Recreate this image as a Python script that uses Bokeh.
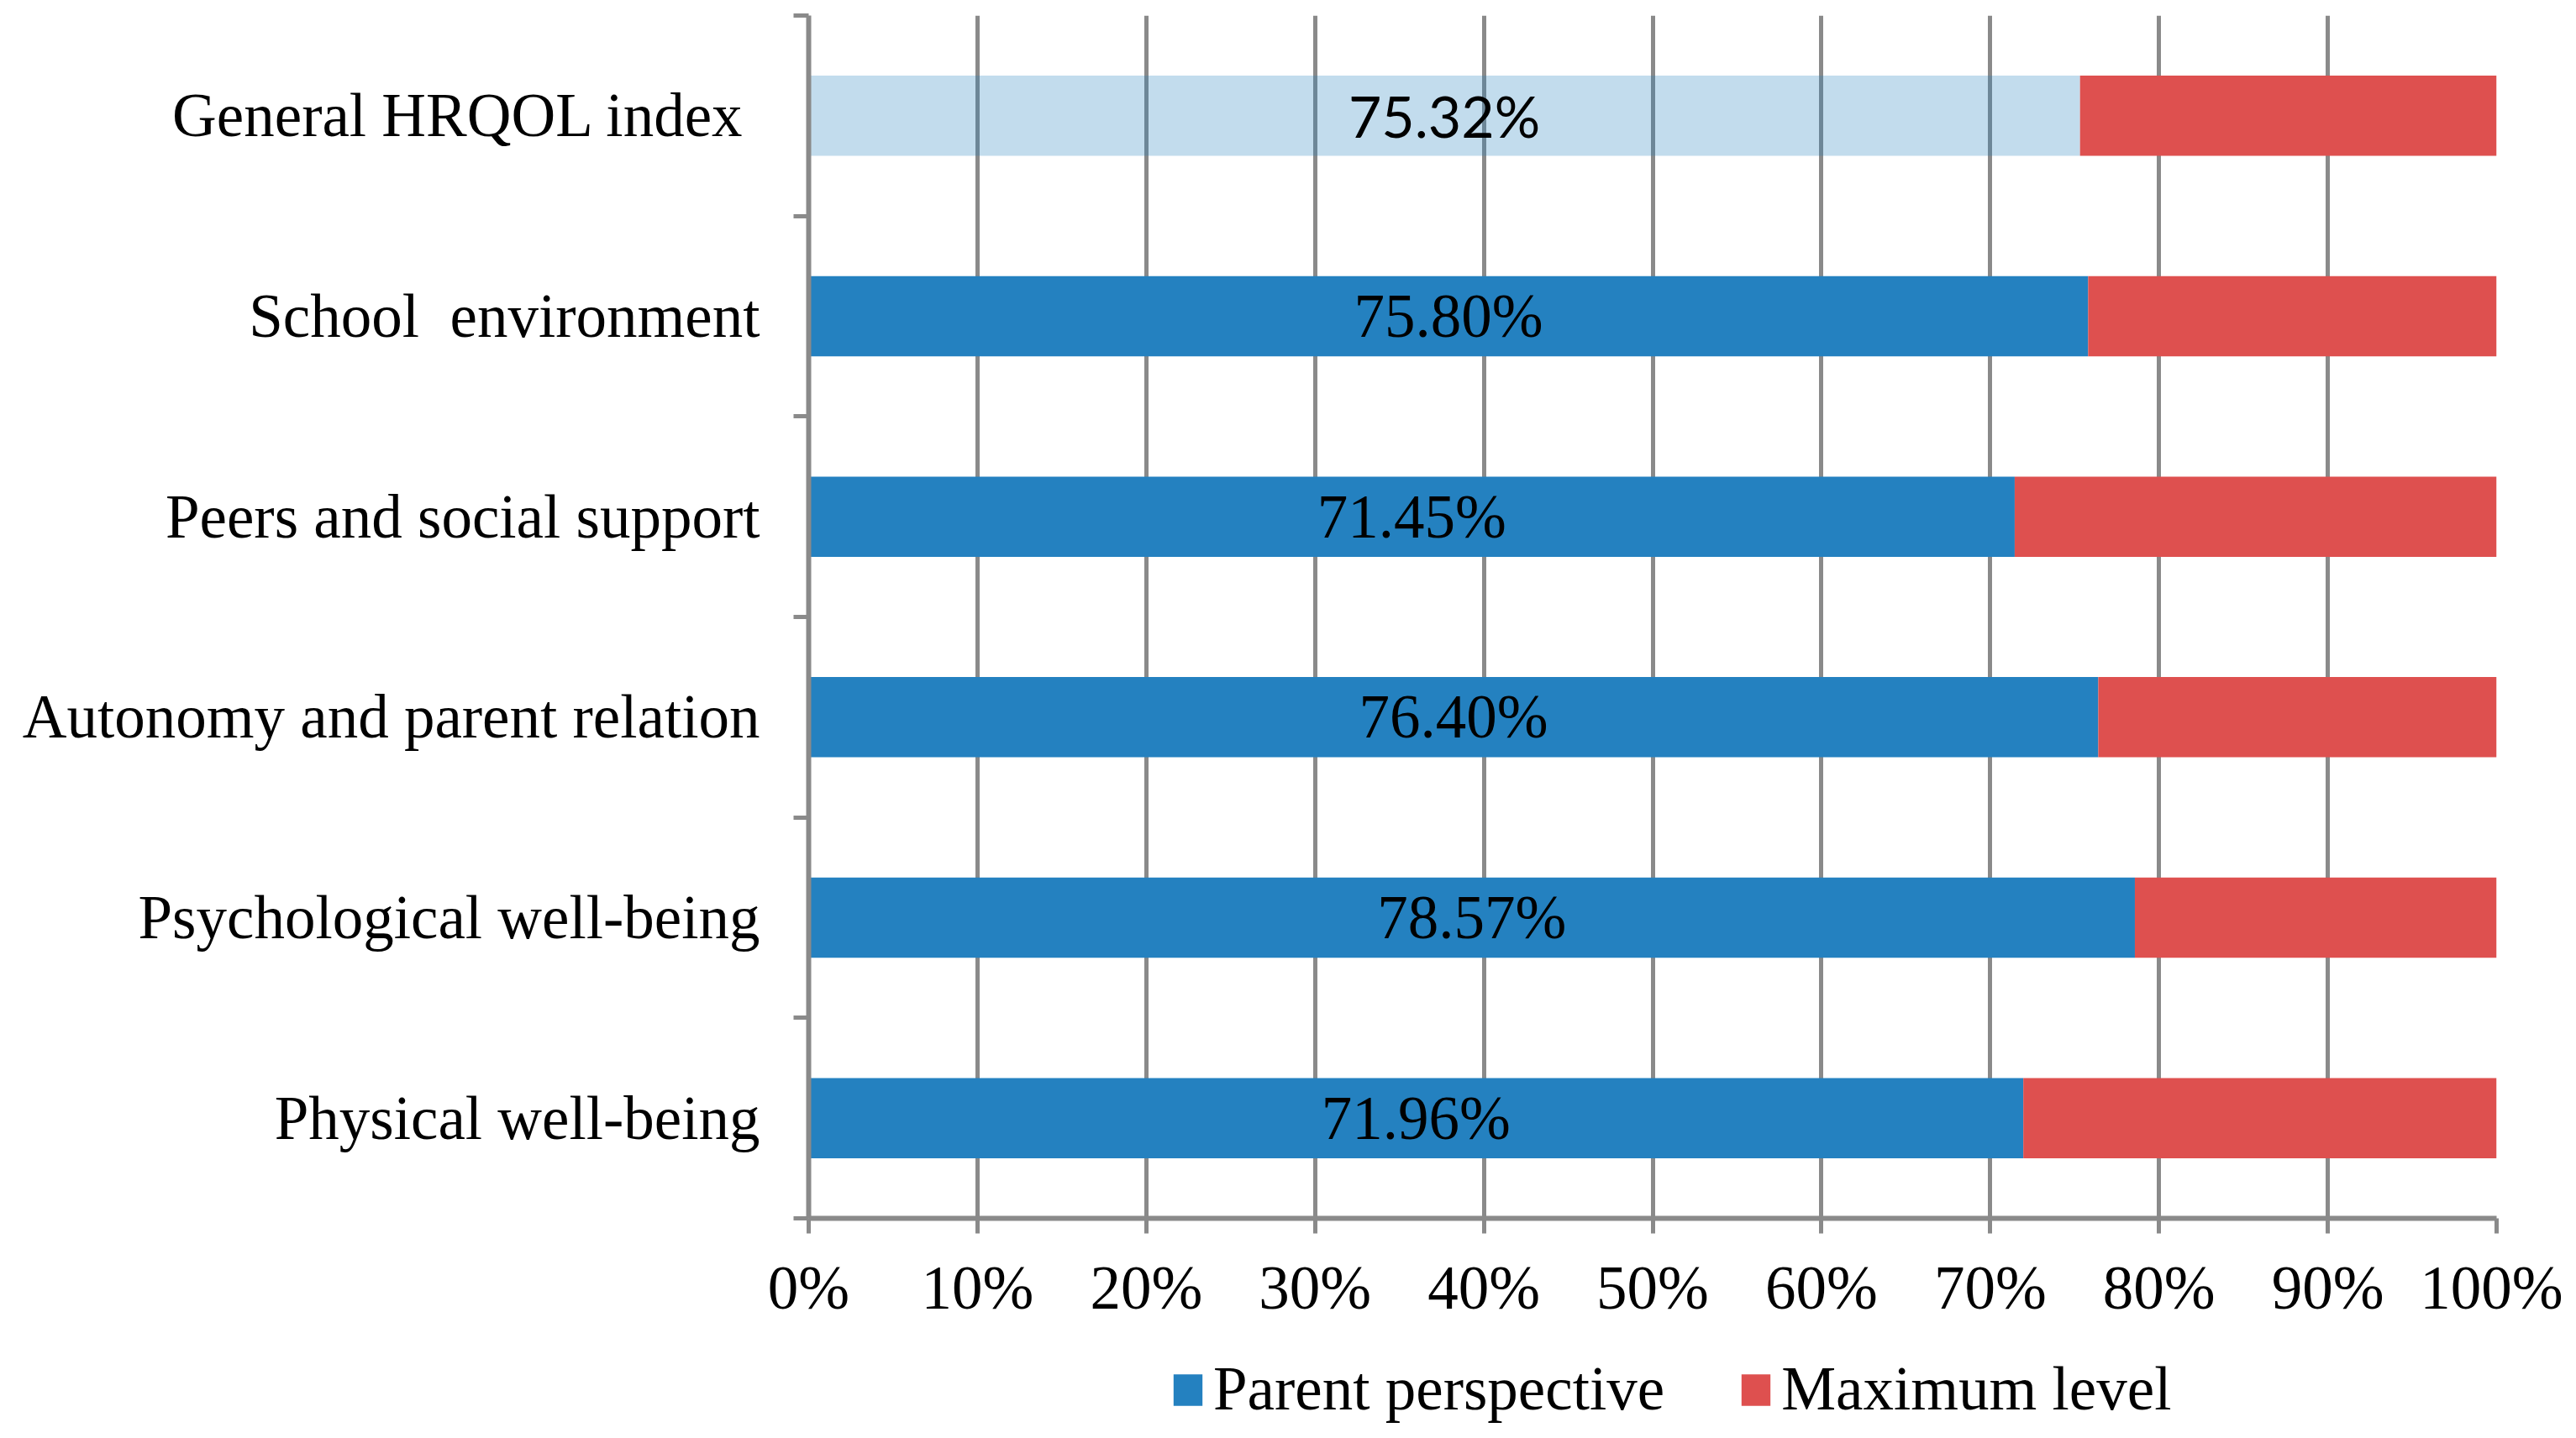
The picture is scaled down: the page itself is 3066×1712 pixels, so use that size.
from bokeh.plotting import figure
from bokeh.layouts import column
from bokeh.models import (Range1d, FixedTicker, NumeralTickFormatter, Legend, LegendItem,
                          ColumnDataSource, CDSView, IndexFilter)
from bokeh.core.properties import value
from bokeh.transform import stack
from bokeh.embed import file_html
from bokeh.resources import INLINE

# ---- data (bottom to top) ----
categories = ["Physical well-being", "Psychological well-being", "Autonomy and parent relation",
              "Peers and social support", "School\u00a0 environment", "General HRQOL index\u00a0"]
parent_pct = [71.96, 78.57, 76.40, 71.45, 75.80, 75.32]
maximum_pct = [100 - v for v in parent_pct]
series_names = ["Parent perspective", "Maximum level"]
x_tick_values = [0, 0.1, 0.2, 0.3, 0.4, 0.5, 0.6, 0.7, 0.8, 0.9, 1.0]

BLUE = "#2481C0"
RED = "#DE504F"
GRAY = "#8A8A8A"
SERIF = "Liberation Serif"
FS = "73px"

n = len(categories)
ypos = [i + 0.5 for i in range(n)]
src = ColumnDataSource(dict(
    y=ypos,
    parent=[v / 100 for v in parent_pct],
    maxl=[v / 100 for v in maximum_pct],
    mid=[v / 200 for v in parent_pct],
    label=[f"{v:.2f}%" for v in parent_pct],
    alpha=[1.0] * (n - 1) + [0.28],
))

W = 3050
H_MAIN = 1590
H_LEG = 106

p = figure(width=W, height=H_MAIN, output_backend="svg", toolbar_location=None,
           x_range=Range1d(0, 1), y_range=Range1d(0, n),
           min_border_left=962, min_border_right=79, min_border_top=18, min_border_bottom=140)
p.outline_line_color = None
p.background_fill_color = "white"
p.border_fill_color = "white"

p.hbar(y="y", left=0, right="parent", height=0.4, source=src,
       fill_color=BLUE, fill_alpha="alpha", line_color=None)
p.hbar(y="y", left=stack("parent"), right=stack("parent", "maxl"), height=0.4,
       source=src, fill_color=RED, line_color=None)

serif_view = CDSView(filter=IndexFilter(list(range(n - 1))))
sans_view = CDSView(filter=IndexFilter([n - 1]))
p.text(x="mid", y="y", text="label", source=src, view=serif_view,
       text_font=value(SERIF), text_font_size=FS, text_align="center",
       text_baseline="middle", text_color="black")
p.text(x="mid", y="y", text="label", source=src, view=sans_view,
       text_font=value("Lato"), text_font_size="68px", text_align="center",
       text_baseline="middle", text_color="black")

# grid
p.ygrid.visible = False
p.xgrid.ticker = FixedTicker(ticks=x_tick_values)
p.xgrid.grid_line_color = GRAY
p.xgrid.grid_line_width = 5

# x axis
xa = p.xaxis[0]
xa.ticker = FixedTicker(ticks=x_tick_values)
xa.formatter = NumeralTickFormatter(format="0%")
xa.axis_line_color = GRAY
xa.axis_line_width = 6
xa.major_tick_line_color = GRAY
xa.major_tick_line_width = 5
xa.major_tick_out = 18
xa.major_tick_in = 0
xa.minor_tick_line_color = None
xa.major_label_standoff = 24
xa.major_label_text_font = SERIF
xa.major_label_text_font_size = FS
xa.major_label_text_color = "black"

# y axis
ya = p.yaxis[0]
ya.ticker = FixedTicker(ticks=ypos, minor_ticks=list(range(n + 1)))
ya.major_label_overrides = {y: c for y, c in zip(ypos, categories)}
ya.axis_line_color = GRAY
ya.axis_line_width = 6
ya.major_tick_line_color = None
ya.major_tick_out = 0
ya.major_tick_in = 0
ya.minor_tick_line_color = GRAY
ya.minor_tick_line_width = 5
ya.minor_tick_out = 18
ya.minor_tick_in = 0
ya.major_label_standoff = 40
ya.major_label_text_font = SERIF
ya.major_label_text_font_size = FS
ya.major_label_text_color = "black"

# ---- legend strip (same series, drawn outside its visible range) ----
lg = figure(width=W, height=H_LEG, output_backend="svg", toolbar_location=None,
            x_range=Range1d(0, 1), y_range=Range1d(100, 101),
            x_axis_type=None, y_axis_type=None, min_border=0)
lg.outline_line_color = None
lg.grid.visible = False
lg.background_fill_color = "white"
lg.border_fill_color = "white"
lr_blue = lg.hbar(y="y", left=0, right="parent", height=0.4, source=src,
                  fill_color=BLUE, line_color=None)
lr_red = lg.hbar(y="y", left=stack("parent"), right=stack("parent", "maxl"), height=0.4,
                 source=src, fill_color=RED, line_color=None)
legend = Legend(items=[LegendItem(label=series_names[0], renderers=[lr_blue], index=0),
                       LegendItem(label=series_names[1], renderers=[lr_red], index=0)],
                orientation="horizontal", location=(430, 0),
                glyph_width=43, glyph_height=47, label_standoff=9, spacing=87,
                label_text_font=SERIF, label_text_font_size=FS, label_text_color="black",
                padding=0, margin=0, border_line_color=None, background_fill_alpha=0)
lg.add_layout(legend, "center")

layout = column(p, lg, spacing=0)
open("out.html", "w").write(file_html(layout, INLINE))
